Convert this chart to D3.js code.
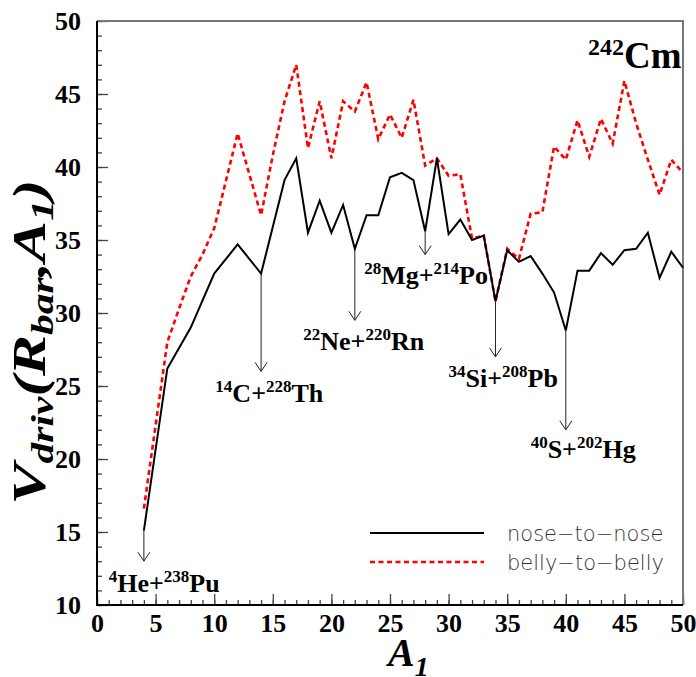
<!DOCTYPE html>
<html>
<head>
<meta charset="utf-8">
<script src="https://cdn.jsdelivr.net/npm/d3@7"></script>
<style>
  body { margin: 0; background: #fff; }
  .chart text { font-family: "Liberation Serif", "Times New Roman", serif; }
  .tickLabel text { font-size: 26px; font-weight: bold; fill: #000; }
  .legendText { font-family: "DejaVu Sans", sans-serif !important; font-weight: 200; font-size: 21px; fill: #333; }
</style>
</head>
<body>
<div class="chart"></div>
<script>
// data
const a1Nose = [4, 6, 8, 10, 12, 14, 16, 17, 18, 19, 20, 21, 22, 23, 24, 25, 26, 27, 28, 29, 30,
    31, 32, 33, 34, 35, 36, 37, 38, 39, 40, 41, 42, 43, 44, 45, 46, 47, 48, 49, 50]
const vNose = [15.1, 26.2, 29.0, 32.7, 34.7, 32.7, 39.1, 40.6, 35.5, 37.7, 35.5, 37.4, 34.4, 36.7, 36.7, 39.3, 39.6,
    39.1, 35.6, 40.6, 35.4, 36.4, 35.0, 35.3, 30.8, 34.3, 33.5,
    33.9, 32.7, 31.4, 28.8, 32.9, 32.9, 34.1, 33.3, 34.3, 34.4,
    35.5, 32.4, 34.2, 33.1]

const a1Belly = [4, 6, 7, 8, 9, 10, 12, 14, 15, 16, 17, 18, 19, 20, 21, 22, 23, 24, 25, 26, 27, 28, 29, 30,
    31, 32, 33, 34, 35, 36, 37, 38, 39, 40, 41, 42, 43, 44, 45, 46, 47, 48, 49, 50]
const vBelly = [16.6, 28.0, 30.3, 32.5, 34.0, 35.8, 42.3, 36.7, 40.8, 44.5,
    47.0, 41.3, 44.5, 40.6, 44.5, 43.8, 45.8, 41.9, 43.6, 42.0,
    44.6, 40.1, 40.6, 39.4, 39.5, 35.1, 35.3, 30.8, 34.4, 33.7,
    36.8, 36.9, 41.4, 40.5, 43.2, 40.7, 43.3, 41.6, 45.9, 43.0,
    40.5, 38.1, 40.5, 39.6]

const seriesNames = ["nose\u2212to\u2212nose", "belly\u2212to\u2212belly"]

// decay channels marked with arrows
const channelA1 = [4, 14, 22, 28, 34, 40]
const arrowEnd = [13, 26, 29.5, 34, 27, 22]
const labelA1 = [1.0, 10.1, 17.6, 22.8, 30.0, 37.0]
const labelV = [10.9, 23.9, 27.5, 32.0, 24.9, 20.1]
const channelLabels = [
    [["4", "sup"], ["He+"], ["238", "sup"], ["Pu"]],
    [["14", "sup"], ["C+"], ["228", "sup"], ["Th"]],
    [["22", "sup"], ["Ne+"], ["220", "sup"], ["Rn"]],
    [["28", "sup"], ["Mg+"], ["214", "sup"], ["Po"]],
    [["34", "sup"], ["Si+"], ["208", "sup"], ["Pb"]],
    [["40", "sup"], ["S+"], ["202", "sup"], ["Hg"]]
]
const nucleusLabel = [["242", "sup"], ["Cm"]]
const xTicks = d3.range(0, 51, 5)
const yTicks = d3.range(10, 51, 5)

const width = 696, height = 677
const margins = { top: 21, right: 13, bottom: 72, left: 97 }
const innerWidth = width - margins.left - margins.right
const innerHeight = height - margins.top - margins.bottom

const svg = d3.select('.chart')
    .append('svg')
    .attr('width', width)
    .attr('height', height)

const g = svg.append('g')
    .attr('transform', `translate(${margins.left}, ${margins.top})`)

const xScale = d3.scaleLinear().domain([0, 50]).range([0, innerWidth])
const yScale = d3.scaleLinear().domain([10, 50]).range([innerHeight, 0])

// minor ticks
g.append('g')
    .attr('transform', `translate(0, ${innerHeight})`)
    .call(d3.axisBottom(xScale).tickValues(d3.range(0, 51)).tickSize(-5).tickFormat(''))
g.append('g')
    .call(d3.axisLeft(yScale).tickValues(d3.range(10, 51)).tickSize(-5).tickFormat(''))

// major ticks + labels
g.append('g')
    .attr('class', 'tickLabel')
    .attr('transform', `translate(0, ${innerHeight})`)
    .call(d3.axisBottom(xScale).tickValues(xTicks).tickSize(-11).tickPadding(9))
g.append('g')
    .attr('class', 'tickLabel')
    .call(d3.axisLeft(yScale).tickValues(yTicks).tickSize(-11).tickPadding(16))

g.selectAll('.domain').remove()
g.selectAll('.tick line').attr('stroke', '#444').attr('stroke-width', 1.3)

// frame
g.append('path')
    .attr('d', `M0,0H${innerWidth}V${innerHeight}`)
    .attr('fill', 'none').attr('stroke', '#777').attr('stroke-width', 2)
g.append('path')
    .attr('d', `M0,0V${innerHeight}H${innerWidth}`)
    .attr('fill', 'none').attr('stroke', '#000').attr('stroke-width', 2)

const line = d3.line()
    .x(d => xScale(d[0]))
    .y(d => yScale(d[1]))

const noseData = a1Nose.map((a, i) => [a, vNose[i]])
const bellyData = a1Belly.map((a, i) => [a, vBelly[i]])

g.append('path')
    .datum(bellyData)
    .attr('d', line)
    .attr('fill', 'none')
    .attr('stroke', '#ff0000')
    .attr('stroke-width', 2.6)
    .attr('stroke-dasharray', '5,3.5')

g.append('path')
    .datum(noseData)
    .attr('d', line)
    .attr('fill', 'none')
    .attr('stroke', '#000')
    .attr('stroke-width', 2)
    .attr('stroke-linejoin', 'miter')

// text with super/subscripts, each piece its own <text>, placed side by side
const richText = function(parent, x, y, parts, bigSize, smallSize, shift, style) {
    const grp = parent.append('g').attr('transform', `translate(${x}, ${y})`)
    let cursor = 0
    parts.forEach(p => {
        const small = p[1] === 'sup' || p[1] === 'sub'
        const dy = p[1] === 'sup' ? -shift : p[1] === 'sub' ? shift : 0
        const t = grp.append('text')
            .attr('x', cursor)
            .attr('y', dy)
            .attr('font-size', small ? smallSize : bigSize)
            .attr('font-weight', 'bold')
            .attr('font-style', style || null)
            .text(p[0])
        cursor += t.node().getComputedTextLength()
    })
    return { grp, length: cursor }
}

// arrows + channel labels
channelA1.forEach((a, i) => {
    const x = xScale(a)
    const y0 = yScale(vNose[a1Nose.indexOf(a)])
    const y1 = yScale(arrowEnd[i])
    g.append('line')
        .attr('x1', x).attr('x2', x)
        .attr('y1', y0).attr('y2', y1)
        .attr('stroke', '#222').attr('stroke-width', 1)
    g.append('path')
        .attr('d', `M${x - 6},${y1 - 9}L${x},${y1}L${x + 6},${y1 - 9}`)
        .attr('fill', 'none').attr('stroke', '#222').attr('stroke-width', 1)

    richText(g, xScale(labelA1[i]), yScale(labelV[i]), channelLabels[i], 26, 17, 10)
})

richText(g, xScale(41.9), yScale(46.8), nucleusLabel, 37, 24, 13)

// axis titles
richText(svg, 388, 666, [["A"], ["1", "sub"]], 40, 28, 10, 'italic')

const yt = richText(svg, 0, 0,
    [["V"], ["driv", "sub"], ["(R"], ["bar", "sub"], [",A"], ["1", "sub"], [")"]], 46, 31, 8, 'italic')
const k = 325 / yt.length
yt.grp.attr('transform', `translate(45, ${342 + 325 / 2}) rotate(-90) scale(${k}, 1)`)

// legend
const legend = svg.append('g')
const legendStyles = [
    { stroke: '#000', width: 2, dash: null },
    { stroke: '#ff0000', width: 2.6, dash: '5,3.5' }
]
seriesNames.forEach((name, i) => {
    const ly = 533 + i * 29
    legend.append('line')
        .attr('x1', 370).attr('x2', 484)
        .attr('y1', ly).attr('y2', ly)
        .attr('stroke', legendStyles[i].stroke)
        .attr('stroke-width', legendStyles[i].width)
        .attr('stroke-dasharray', legendStyles[i].dash)
    legend.append('text')
        .attr('class', 'legendText')
        .attr('x', 507)
        .attr('y', ly + 8)
        .text(name)
})
</script>
</body>
</html>
